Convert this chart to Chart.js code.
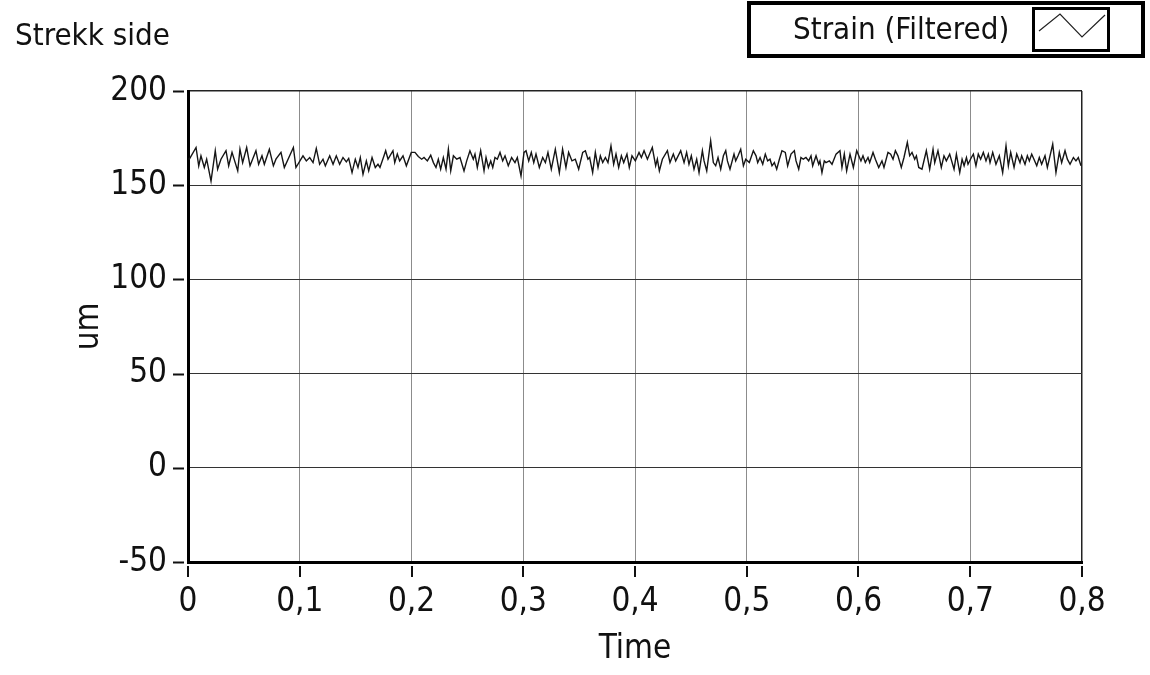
<!DOCTYPE html>
<html>
<head>
<meta charset="utf-8">
<script src="https://cdn.jsdelivr.net/npm/chart.js@4"></script>
<style>
  body { margin: 0; background: #fff; }
  #wrap { position: relative; width: 1150px; height: 675px; font-family: 'Liberation Sans Narrow', 'DejaVu Sans Condensed', sans-serif; }
  #title { position: absolute; left: 15px; top: 16px; font-size: 31px; color: #111; }
  #legend { position: absolute; left: 747px; top: 1px; width: 390px; height: 49px; border: 4px solid #000; }
  #legend .lbl { position: absolute; left: 42px; top: 5px; font-size: 31px; color: #111; }
  #legend .swatch { position: absolute; left: 281px; top: 2px; width: 72px; height: 39px; border: 3px solid #000; }
  #chart { position: absolute; left: 0; top: 0; }
</style>
</head>
<body>
<div id="wrap">
  <canvas id="chart" width="1150" height="675"></canvas>
  <div id="title">Strekk side</div>
  <div id="legend"></div>
</div>
<script>
// Strain signal (filtered), time in seconds, strain in um
const times = [
  0.0000, 0.0012, 0.0072, 0.0096, 0.0116, 0.0146, 0.0167, 0.0206, 0.0244, 0.0265, 0.0295, 0.0340, 0.0364, 0.0394,
  0.0445, 0.0465, 0.0489, 0.0525, 0.0555, 0.0608, 0.0632, 0.0662, 0.0683, 0.0728, 0.0764, 0.0787, 0.0832, 0.0862,
  0.0943, 0.0966, 0.1011,
  0.1029, 0.1059, 0.1089, 0.1119, 0.1148, 0.1178, 0.1208, 0.1229, 0.1268, 0.1298, 0.1327, 0.1357, 0.1387, 0.1417,
  0.1438, 0.1468, 0.1497, 0.1521, 0.1542, 0.1566, 0.1596, 0.1617, 0.1647, 0.1676, 0.1700, 0.1718, 0.1754, 0.1769,
  0.1790, 0.1834, 0.1850, 0.1873, 0.1894, 0.1924, 0.1954, 0.1998,
  0.2031, 0.2061, 0.2091, 0.2112, 0.2142, 0.2172, 0.2196, 0.2219, 0.2240, 0.2261, 0.2285, 0.2309, 0.2330, 0.2351,
  0.2375, 0.2405, 0.2434, 0.2470, 0.2494, 0.2523, 0.2553, 0.2568, 0.2589, 0.2619, 0.2649, 0.2667, 0.2688, 0.2709,
  0.2727, 0.2747, 0.2768, 0.2792, 0.2816, 0.2837, 0.2866, 0.2896, 0.2926, 0.2947, 0.2980, 0.3007,
  0.3025, 0.3049, 0.3072, 0.3094, 0.3114, 0.3144, 0.3174, 0.3198, 0.3221, 0.3251, 0.3287, 0.3323, 0.3352, 0.3382,
  0.3406, 0.3436, 0.3466, 0.3496, 0.3532, 0.3556, 0.3579, 0.3594, 0.3621, 0.3645, 0.3669, 0.3690, 0.3711, 0.3735,
  0.3758, 0.3785, 0.3809, 0.3830, 0.3854, 0.3878, 0.3899, 0.3928, 0.3949, 0.3973, 0.4003,
  0.4036, 0.4057, 0.4081, 0.4111, 0.4155, 0.4185, 0.4200, 0.4218, 0.4245, 0.4290, 0.4313, 0.4343, 0.4364, 0.4409,
  0.4439, 0.4462, 0.4483, 0.4504, 0.4528, 0.4552, 0.4573, 0.4603, 0.4618, 0.4642, 0.4677, 0.4701, 0.4722, 0.4743,
  0.4767, 0.4791, 0.4812, 0.4827, 0.4850, 0.4886, 0.4901, 0.4922, 0.4946, 0.4970, 0.4991,
  0.5023, 0.5059, 0.5083, 0.5098, 0.5119, 0.5143, 0.5166, 0.5187, 0.5208, 0.5226, 0.5247, 0.5268, 0.5292, 0.5315,
  0.5345, 0.5366, 0.5396, 0.5426, 0.5441, 0.5465, 0.5485, 0.5506, 0.5530, 0.5554, 0.5575, 0.5590, 0.5620, 0.5644,
  0.5655, 0.5673, 0.5694, 0.5709, 0.5739, 0.5763, 0.5799, 0.5834, 0.5852, 0.5873, 0.5894, 0.5924, 0.5954, 0.5984,
  0.6022,
  0.6040, 0.6061, 0.6085, 0.6100, 0.6130, 0.6151, 0.6181, 0.6210, 0.6228, 0.6264, 0.6288, 0.6309, 0.6330, 0.6353,
  0.6383, 0.6407, 0.6437, 0.6458, 0.6479, 0.6503, 0.6518, 0.6539, 0.6568, 0.6607, 0.6637, 0.6667, 0.6682, 0.6711,
  0.6741, 0.6765, 0.6786, 0.6816, 0.6855, 0.6876, 0.6906, 0.6927, 0.6945, 0.6966, 0.6980, 0.7010,
  0.7028, 0.7051, 0.7072, 0.7093, 0.7117, 0.7141, 0.7162, 0.7177, 0.7201, 0.7230, 0.7260, 0.7290, 0.7320, 0.7341,
  0.7362, 0.7392, 0.7416, 0.7445, 0.7460, 0.7490, 0.7511, 0.7529, 0.7550, 0.7570, 0.7595, 0.7618, 0.7639, 0.7669,
  0.7690, 0.7738, 0.7767, 0.7797, 0.7818, 0.7848, 0.7869, 0.7893, 0.7923, 0.7946, 0.7967, 0.7991
];
const strain = [
  164.0, 163.8, 170.0, 160.3, 165.6, 159.4, 163.8, 152.2, 168.3, 158.5, 163.8, 168.3, 160.3, 167.4,
  157.6, 169.1, 162.0, 170.0, 160.3, 168.3, 161.1, 165.6, 161.1, 169.1, 160.3, 163.8, 167.4, 159.4,
  170.0, 159.4, 163.8,
  165.6, 162.9, 164.7, 162.0, 169.5, 161.1, 163.8, 160.3, 165.6, 161.1, 165.6, 161.1, 164.7, 162.4,
  164.2, 156.7, 163.8, 159.4, 164.7, 155.8, 162.9, 157.6, 164.7, 159.4, 161.1, 159.4, 165.6, 168.3,
  163.8, 168.3, 162.0, 166.5, 162.9, 165.6, 160.3, 167.4,
  167.4, 165.2, 163.8, 164.7, 162.9, 165.9, 162.0, 159.4, 163.8, 158.5, 164.7, 158.5, 169.1, 157.6,
  165.6, 163.8, 164.7, 157.6, 162.9, 168.3, 163.8, 166.5, 159.4, 168.3, 157.6, 164.7, 159.4, 162.9,
  159.4, 164.7, 163.8, 167.4, 162.9, 165.6, 160.3, 164.7, 162.0, 164.7, 154.9, 167.4,
  168.3, 162.9, 167.4, 162.0, 166.5, 159.4, 164.7, 162.0, 167.4, 158.5, 169.1, 156.7, 169.1, 159.4,
  167.4, 162.9, 163.8, 158.5, 167.4, 168.3, 163.8, 164.7, 156.7, 167.4, 159.4, 165.6, 162.0, 164.7,
  162.0, 170.9, 161.1, 166.5, 159.4, 165.6, 162.0, 166.5, 159.4, 165.6, 162.9,
  167.4, 164.7, 168.3, 163.8, 170.0, 160.3, 163.8, 157.6, 163.8, 168.3, 162.0, 166.5, 162.9, 168.3,
  162.0, 167.4, 161.1, 165.6, 158.5, 163.8, 156.7, 168.3, 162.9, 157.6, 173.6, 162.0, 160.3, 164.7,
  158.5, 165.6, 168.3, 162.9, 158.5, 166.5, 162.9, 165.6, 169.1, 160.3, 163.8,
  162.0, 168.3, 165.6, 162.0, 164.7, 161.1, 166.5, 162.9, 163.8, 160.3, 162.0, 158.5, 163.8, 168.3,
  167.4, 160.3, 166.5, 168.3, 162.9, 158.5, 164.7, 163.8, 164.7, 162.9, 165.6, 160.3, 165.6, 161.1,
  162.9, 156.7, 162.9, 162.0, 162.9, 161.1, 166.5, 168.3, 159.4, 166.5, 157.6, 166.5, 159.4, 168.3,
  162.9,
  165.6, 162.0, 164.7, 162.0, 167.4, 163.8, 159.4, 162.9, 159.4, 167.4, 166.5, 163.8, 168.3, 165.6,
  159.4, 164.7, 172.7, 165.6, 167.4, 163.8, 165.6, 159.4, 158.5, 168.3, 158.5, 169.1, 162.0, 168.3,
  159.4, 165.6, 162.9, 166.5, 158.5, 166.5, 156.7, 163.8, 160.3, 164.7, 161.1, 164.7,
  166.5, 160.3, 166.5, 163.8, 167.4, 162.9, 166.5, 162.0, 167.4, 161.1, 165.6, 156.7, 170.9, 160.3,
  167.4, 159.4, 166.5, 162.0, 165.6, 161.1, 165.6, 162.9, 166.5, 163.8, 160.3, 164.7, 161.1, 165.6,
  159.4, 171.8, 156.7, 167.4, 162.0, 168.3, 163.8, 161.1, 164.7, 162.9, 164.7, 160.3
];
const seriesName = 'Strain (Filtered)';
const xTickLabels = ['0', '0,1', '0,2', '0,3', '0,4', '0,5', '0,6', '0,7', '0,8'];
const yTickValues = [-50, 0, 50, 100, 150, 200];

const FONT = "'Liberation Sans Narrow', 'DejaVu Sans Condensed', sans-serif";
const points = times.map((t, i) => ({ x: t, y: strain[i] }));

// legend built from the dataset label
const legend = document.getElementById('legend');
legend.innerHTML = `<span class="lbl">${seriesName}</span>
  <div class="swatch"><svg width="72" height="39"><polyline points="4,21 25,4 47,27 70,5" fill="none" stroke="#222" stroke-width="1.2"/></svg></div>`;

// short tick marks that stand a little off the axis lines
const detachedTicks = {
    id: 'detachedTicks',
    afterDraw(chart) {
        const { ctx, chartArea, scales } = chart;
        ctx.save();
        ctx.strokeStyle = '#111';
        ctx.lineWidth = 2;
        ctx.beginPath();
        scales.x.ticks.forEach(t => {
            const px = Math.round(scales.x.getPixelForValue(t.value));
            ctx.moveTo(px, chartArea.bottom + 4);
            ctx.lineTo(px, chartArea.bottom + 15);
        });
        scales.y.ticks.forEach(t => {
            const py = Math.round(scales.y.getPixelForValue(t.value)) + 0.5;
            ctx.moveTo(chartArea.left - 15, py);
            ctx.lineTo(chartArea.left - 4, py);
        });
        ctx.stroke();
        ctx.restore();
    }
};

new Chart(document.getElementById('chart'), {
    type: 'line',
    data: {
        datasets: [{
            label: seriesName,
            data: points,
            borderColor: '#151515',
            borderWidth: 1.4,
            pointRadius: 0,
            tension: 0,
            fill: false
        }]
    },
    options: {
        responsive: false,
        animation: false,
        layout: { padding: { left: 66, top: 91, right: 68, bottom: 0 } },
        plugins: { legend: { display: false }, tooltip: { enabled: false } },
        scales: {
            x: {
                type: 'linear',
                min: 0,
                max: 0.8,
                afterFit: s => { s.height = 113; },
                afterBuildTicks: s => { s.ticks = xTickLabels.map((_, i) => ({ value: i / 10 })); },
                ticks: {
                    font: { family: FONT, size: 33 },
                    color: '#111',
                    padding: 5,
                    maxRotation: 0,
                    callback: (v, i) => xTickLabels[i]
                },
                grid: {
                    color: c => (c.tick && c.tick.value >= 0.8 ? '#222' : '#8c8c8c'),
                    lineWidth: c => (c.tick && c.tick.value >= 0.8 ? 1.5 : 1),
                    tickLength: 16,
                    tickColor: 'rgba(0,0,0,0)'
                },
                border: { color: '#000', width: 3 },
                title: { display: true, text: 'Time', font: { family: FONT, size: 33 }, color: '#111', padding: { top: 0, bottom: 6 } }
            },
            y: {
                min: -50,
                max: 200,
                afterFit: s => { s.width = 122; },
                afterBuildTicks: s => { s.ticks = yTickValues.map(v => ({ value: v })); },
                ticks: {
                    font: { family: FONT, size: 33 },
                    color: '#111',
                    padding: 6,
                    callback: v => String(v)
                },
                grid: {
                    color: c => (c.tick && c.tick.value >= 200 ? '#222' : '#333'),
                    lineWidth: c => (c.tick && c.tick.value >= 200 ? 1.5 : 1),
                    tickLength: 15,
                    tickColor: 'rgba(0,0,0,0)'
                },
                border: { color: '#000', width: 3 },
                title: { display: true, text: 'um', font: { family: FONT, size: 33 }, color: '#111', padding: { top: 4, bottom: 0 } }
            }
        }
    },
    plugins: [detachedTicks]
});
</script>
</body>
</html>
